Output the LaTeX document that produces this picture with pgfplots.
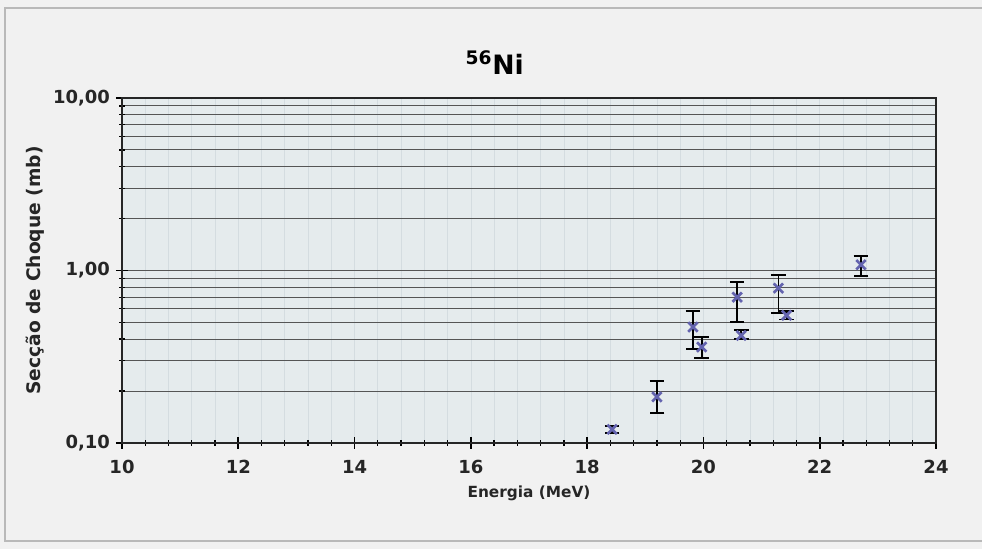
\documentclass[border=0pt]{standalone}
\usepackage{pgfplots}
\pgfplotsset{compat=1.18}
\usepackage{pgfplotstable}
\usepackage{fontspec}
\setmainfont{DejaVu Sans}
\definecolor{outerbg}{RGB}{241,241,241}
\definecolor{plotbg}{RGB}{229,235,237}
\definecolor{gridc}{RGB}{85,85,85}
\definecolor{lgridc}{RGB}{212,220,224}
\definecolor{markc}{RGB}{100,100,175}
\pgfplotstableread{
x y ep em
18.43 0.120 0.006 0.006
19.20 0.185 0.044 0.036
19.82 0.47 0.11 0.12
19.97 0.36 0.05 0.05
20.58 0.70 0.16 0.20
20.65 0.42 0.03 0.02
21.29 0.79 0.15 0.22
21.43 0.55 0.03 0.03
22.71 1.08 0.13 0.15
}\datatable
\begin{document}
\begin{tikzpicture}
\useasboundingbox (0,0) rectangle (736.5pt,411.75pt);
\fill[outerbg] (0,0) rectangle (736.5pt,411.75pt);
\draw[gray!55, line width=0.8pt] (736.5pt,405.75pt) -- (3.75pt,405.75pt) -- (3.75pt,6pt) -- (736.5pt,6pt);
\node[font=\bfseries\fontsize{20}{24}\selectfont] at (371pt,364.5pt) {\textsuperscript{56}Ni};
\begin{axis}[
  at={(91.5pt,79.5pt)}, anchor=south west,
  width=610.5pt, height=258.75pt, scale only axis,
  ymode=log, xmin=10, xmax=24, ymin=0.1, ymax=10,
  axis background/.style={fill=plotbg},
  xtick={10,12,...,24},
  xticklabels={10,12,14,16,18,20,22,24},
  minor x tick num=4,
  ytick={0.1,1,10},
  yticklabels={{0,10},{1,00},{10,00}},
  xtick pos=left, ytick pos=left,
  tick label style={font=\bfseries\fontsize{13.5}{15}\selectfont, black!85},
  xticklabel style={yshift=-5pt},
  yticklabel style={xshift=-1pt},
  tick align=center,
  major tick length=9pt,
  minor tick length=4pt,
  tick style={black, line width=1.2pt},
  minor tick style={black, line width=1pt},
  xmajorgrids, xminorgrids, ymajorgrids, yminorgrids,
  major x grid style={lgridc, line width=0.5pt},
  minor x grid style={lgridc, line width=0.5pt},
  major y grid style={gridc, line width=0.7pt},
  minor y grid style={gridc, line width=0.7pt},
  axis line style={black!85, line width=1.8pt},
  xlabel={Energia (MeV)},
  xlabel style={at={(axis description cs:0.5,0)}, anchor=center, yshift=-37.5pt, font=\bfseries\fontsize{11.5}{13}\selectfont, black!85},
  ylabel={Secção de Choque (mb)},
  ylabel style={at={(axis description cs:-0.1069,0.5)}, anchor=center, font=\bfseries\fontsize{14}{16}\selectfont, black!85},
  clip=false,
]
\addplot[only marks, mark=x, mark size=5pt, mark options={markc, line width=2pt},
  error bars/.cd, y dir=both, y explicit,
  error bar style={black, line width=1.4pt},
  error mark options={rotate=90, mark size=5.5pt, line width=1.4pt, black}]
  table[x=x, y=y, y error plus=ep, y error minus=em]{\datatable};
\end{axis}
\end{tikzpicture}
\end{document}
